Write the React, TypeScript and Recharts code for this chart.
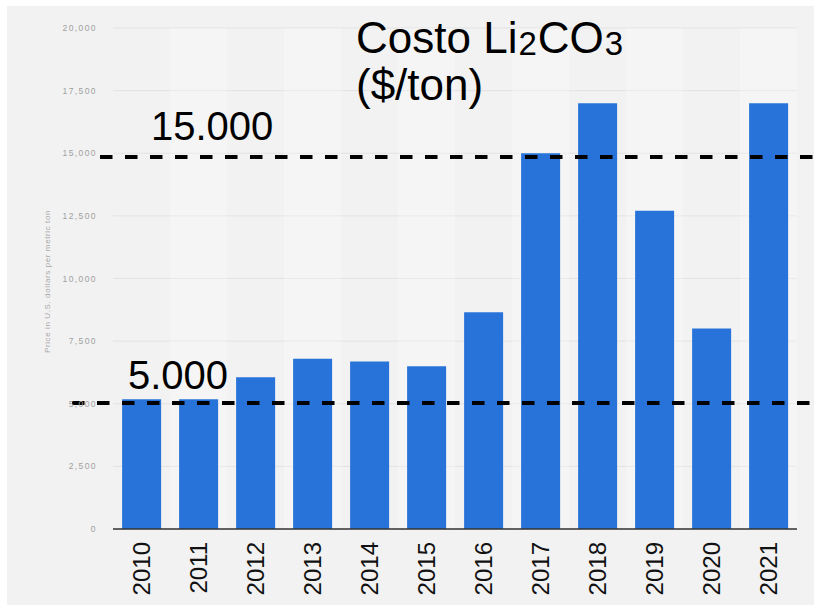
import React from 'react';
import { BarChart, Bar, XAxis, YAxis, CartesianGrid, ReferenceLine, ReferenceArea } from 'recharts';

const years = ['2010', '2011', '2012', '2013', '2014', '2015', '2016', '2017', '2018', '2019', '2020', '2021'];
const prices = [5180, 5180, 6060, 6800, 6690, 6500, 8650, 15000, 17000, 12700, 8000, 17000];
const yTicks = [0, 2500, 5000, 7500, 10000, 12500, 15000, 17500, 20000];
const lightBands = ['2011', '2013', '2015', '2017', '2019', '2021'];
const guideValues = [14850, 5030];
const guideLabels = ['15.000', '5.000'];

const data = years.map((y, i) => ({ year: y, price: prices[i] }));

const FONT = '"Liberation Sans", Arial, Helvetica, sans-serif';

const XTick = (props: any) => {
  const { x, y, payload } = props;
  return (
    <text x={x} y={y} transform={`rotate(-90 ${x} ${y})`} textAnchor="end" dy="0.36em"
      fontSize={24} fill="#111" fontFamily={FONT}>{payload.value}</text>
  );
};

const fmt = (v: number) => v.toLocaleString('en-US');

const AxisTitle = (props: any) => {
  const vb = props.viewBox || {};
  const x = vb.x - 3;
  const y = vb.y + vb.height / 2 + 3;
  return (
    <text x={x} y={y} transform={`rotate(-90 ${x} ${y})`} textAnchor="middle" fontSize={8}
      letterSpacing={0.6} fill="#a8a8a8" fontFamily={FONT}>Price in U.S. dollars per metric ton</text>
  );
};

const makeGuide = (label: string, ext: number, lx: number, ly: number) => (p: any) => (
  <g>
    <line x1={p.x1 - ext} x2={821} y1={p.y1} y2={p.y2} stroke="#000" strokeWidth={4} strokeDasharray="12.5 12.5" />
    <text x={lx} y={ly} fontSize={40} fill="#000" fontFamily={FONT}>{label}</text>
  </g>
);

export default function App() {
  return (
    <div style={{ position: 'absolute', left: 0, top: 0, width: 821, height: 609, background: '#fff' }}>
      <div style={{ position: 'absolute', left: 7, top: 6, width: 807, height: 599, background: '#f2f2f2' }} />
      <div style={{ position: 'absolute', left: 0, top: 0 }}>
        <BarChart width={821} height={609} data={data} barCategoryGap="16%"
          margin={{ top: 28, right: 24, left: 53, bottom: 0 }}>
          {lightBands.map((b) => (
            <ReferenceArea key={b} x1={b} x2={b} y1={0} y2={20000} fill="#ffffff" fillOpacity={0.28} stroke="none" ifOverflow="visible" />
          ))}
          <CartesianGrid vertical={false} stroke="#e2e2e2" strokeWidth={1} />
          <XAxis dataKey="year" height={80} tickSize={0} tickMargin={13} tick={<XTick />} interval={0}
            axisLine={{ stroke: '#333', strokeWidth: 1.5 }} tickLine={false} />
          <YAxis width={60} domain={[0, 20000]} ticks={yTicks} tickFormatter={fmt} tickSize={0} tickMargin={16}
            axisLine={false} tickLine={false}
            tick={{ fontSize: 8.5, fill: '#a0a0a0', fontFamily: FONT, letterSpacing: 1.4 }}
            label={<AxisTitle />} />
          <Bar dataKey="price" fill="#2773d9" isAnimationActive={false} />
          <ReferenceLine y={guideValues[0]} ifOverflow="visible" shape={makeGuide(guideLabels[0], 13, 151, 140)} />
          <ReferenceLine y={guideValues[1]} ifOverflow="visible" shape={makeGuide(guideLabels[1], 41, 128, 389)} />
        </BarChart>
      </div>
      <svg width={821} height={609} style={{ position: 'absolute', left: 0, top: 0, pointerEvents: 'none' }}>
        <text x={356} y={53} fontSize={44} fill="#000" fontFamily={FONT}>
          Costo Li<tspan fontSize={33} dx={1} dy={2}>2</tspan><tspan dx={1} dy={-2}>CO</tspan><tspan fontSize={33} dx={1} dy={2}>3</tspan>
        </text>
        <text x={356} y={100} fontSize={44} fill="#000" fontFamily={FONT}>($/ton)</text>
      </svg>
    </div>
  );
}
